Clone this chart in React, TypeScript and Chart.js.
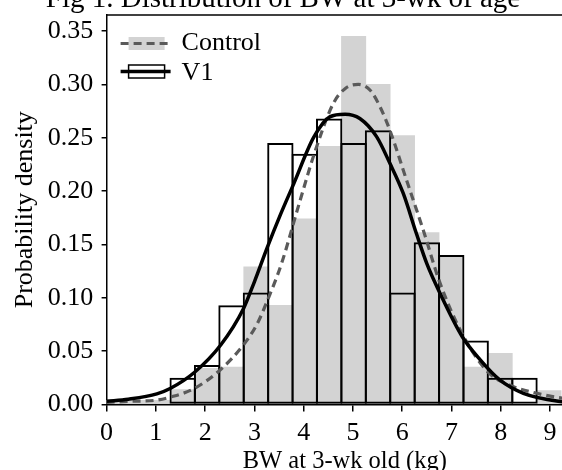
import React, { useEffect, useRef } from "react";
import { Chart, registerables } from "chart.js";

Chart.register(...registerables);

// Histogram bin centres (kg) and densities
const binCenters = [0.057, 0.552, 1.048, 1.544, 2.04, 2.535, 3.031, 3.527, 4.022, 4.518, 5.014, 5.509, 6.005, 6.501, 6.996, 7.492, 7.988, 8.483, 8.979];
const controlDensity: (number | null)[] = [0.004, 0.004, 0.004, 0.014, 0.034, 0.035, 0.129, 0.093, 0.174, 0.242, 0.345, 0.3, 0.252, 0.161, 0.138, 0.035, 0.048, null, 0.013];
const v1Density: (number | null)[] = [null, null, null, 0.025, 0.037, 0.093, 0.105, 0.245, 0.235, 0.268, 0.245, 0.257, 0.105, 0.152, 0.14, 0.06, 0.025, 0.025, null];

// Density curves
const controlCurveX = [0, 0.5, 1.0, 1.3, 1.78, 2.32, 2.78, 3.05, 3.26, 3.55, 3.92, 4.23, 4.6, 4.84, 5.11, 5.35, 5.55, 5.75, 6.09, 6.43, 6.77, 7.22, 7.75, 8.25, 8.73, 9.24, 9.7];
const controlCurveY = [0.002, 0.003, 0.004, 0.007, 0.015, 0.033, 0.056, 0.075, 0.097, 0.132, 0.19, 0.237, 0.282, 0.296, 0.3, 0.2945, 0.279, 0.257, 0.21, 0.163, 0.1135, 0.066, 0.03, 0.017, 0.0105, 0.006, 0.004];
const v1CurveX = [0, 0.44, 1.02, 1.29, 1.78, 2.32, 2.78, 3.0, 3.26, 3.52, 3.8, 4.2, 4.53, 4.84, 5.14, 5.48, 5.75, 6.02, 6.29, 6.5, 6.77, 7.22, 7.58, 7.98, 8.46, 9.24, 9.7];
const v1CurveY = [0.003, 0.005, 0.01, 0.015, 0.03, 0.056, 0.09, 0.115, 0.147, 0.177, 0.207, 0.25, 0.2695, 0.272, 0.268, 0.251, 0.226, 0.198, 0.16, 0.132, 0.104, 0.0635, 0.042, 0.023, 0.0105, 0.0026, 0.001];

const xTicks = [0, 1, 2, 3, 4, 5, 6, 7, 8, 9];
const yTicks = [0, 0.05, 0.1, 0.15, 0.2, 0.25, 0.3, 0.35];

const titleText = "Fig 1. Distribution of BW at 3-wk of age";
const xTitle = "BW at 3-wk old (kg)";
const yTitle = "Probability density";
const legendLabels = ["Control", "V1"];

const FAMILY = '"Liberation Serif", "Times New Roman", serif';
const W = 590;
const H = 480;

const toBars = (vals: (number | null)[]) =>
  binCenters
    .map((x, i) => ({ x, y: vals[i] }))
    .filter((p) => p.y !== null) as { x: number; y: number }[];

const framePlugin = {
  id: "frameAndLegend",
  afterDraw(chart: any) {
    const { ctx, chartArea } = chart;
    ctx.save();
    // top frame line
    ctx.strokeStyle = "#000";
    ctx.lineWidth = 1.5;
    ctx.beginPath();
    ctx.moveTo(chartArea.left, chartArea.top);
    ctx.lineTo(chartArea.right, chartArea.top);
    ctx.stroke();

    // title (partially cut off at top)
    ctx.fillStyle = "#000";
    ctx.font = `29px ${FAMILY}`;
    ctx.textAlign = "center";
    ctx.textBaseline = "alphabetic";
    ctx.fillText(titleText, 283, 7);

    // legend
    const lx0 = chartArea.left + 14;
    const lx1 = chartArea.left + 64;
    const bx = chartArea.left + 22;
    const bw = 36;
    const bh = 13;
    const r1 = 43.5;
    const r2 = 71.5;
    // Control patch
    ctx.fillStyle = "#d3d3d3";
    ctx.fillRect(bx, r1 - bh / 2, bw, bh);
    ctx.strokeStyle = "#5a5a5a";
    ctx.lineWidth = 3.2;
    ctx.setLineDash([8, 5]);
    ctx.beginPath();
    ctx.moveTo(lx0, r1);
    ctx.lineTo(lx1, r1);
    ctx.stroke();
    ctx.setLineDash([]);
    // V1 patch
    ctx.fillStyle = "#fff";
    ctx.fillRect(bx, r2 - bh / 2, bw, bh);
    ctx.strokeStyle = "#000";
    ctx.lineWidth = 1.5;
    ctx.strokeRect(bx, r2 - bh / 2, bw, bh);
    ctx.lineWidth = 3.5;
    ctx.beginPath();
    ctx.moveTo(lx0, r2);
    ctx.lineTo(lx1, r2);
    ctx.stroke();
    // labels
    ctx.fillStyle = "#000";
    ctx.font = `26px ${FAMILY}`;
    ctx.textAlign = "left";
    ctx.fillText(legendLabels[0], chartArea.left + 75, r1 + 6.5);
    ctx.fillText(legendLabels[1], chartArea.left + 75, r2 + 8.8);
    ctx.restore();
  },
};

export default function App() {
  const ref = useRef<HTMLCanvasElement>(null);
  useEffect(() => {
    document.body.style.margin = "0";
    document.body.style.overflow = "hidden";
    const canvas = ref.current;
    if (!canvas) return;
    const font = { family: FAMILY, size: 26 };
    const chart = new Chart(canvas, {
      type: "bar",
      data: {
        datasets: [
          {
            type: "line",
            label: "V1 density",
            data: v1CurveX.map((x, i) => ({ x, y: v1CurveY[i] })),
            borderColor: "#000",
            borderWidth: 3.5,
            pointRadius: 0,
            cubicInterpolationMode: "monotone",
            fill: false,
            order: 1,
          } as any,
          {
            type: "line",
            label: "Control density",
            data: controlCurveX.map((x, i) => ({ x, y: controlCurveY[i] })),
            borderColor: "#5a5a5a",
            borderWidth: 3.2,
            borderDash: [8, 5],
            pointRadius: 0,
            cubicInterpolationMode: "monotone",
            fill: false,
            order: 2,
          } as any,
          {
            type: "bar",
            label: "V1",
            data: toBars(v1Density),
            backgroundColor: "rgba(0,0,0,0)",
            borderColor: "#000",
            borderWidth: 2,
            borderSkipped: false,
            barPercentage: 1.08,
            categoryPercentage: 1,
            grouped: false,
            order: 3,
          } as any,
          {
            type: "bar",
            label: "Control",
            data: toBars(controlDensity),
            backgroundColor: "#d3d3d3",
            borderWidth: 0,
            barPercentage: 1,
            categoryPercentage: 1,
            grouped: false,
            order: 4,
          } as any,
        ],
      },
      options: {
        responsive: false,
        animation: false,
        devicePixelRatio: 1,
        layout: { padding: { top: 15, right: 7, left: 0, bottom: 0 } },
        plugins: {
          legend: { display: false },
          title: { display: false },
          tooltip: { enabled: false },
        },
        scales: {
          x: {
            type: "linear",
            min: 0,
            max: 9.67,
            offset: false,
            grid: {
              display: true,
              drawOnChartArea: false,
              drawTicks: true,
              tickLength: 7,
              color: "#000",
              lineWidth: 1.5,
              offset: false,
            },
            border: { display: true, color: "#000", width: 1.5 },
            ticks: {
              color: "#000",
              font,
              padding: 5.7,
              maxRotation: 0,
              autoSkip: false,
              callback: (v: any) => String(v),
            },
            title: {
              display: true,
              text: xTitle,
              color: "#000",
              font: { family: FAMILY, size: 24.5 },
              padding: { top: 0, bottom: 3.9 },
            },
            afterBuildTicks: (s: any) => {
              s.ticks = xTicks.map((v) => ({ value: v }));
            },
            afterFit: (s: any) => {
              s.height = 75.5;
              s.paddingLeft = 0;
              s.paddingRight = 0;
            },
          } as any,
          y: {
            type: "linear",
            min: 0,
            max: 0.365,
            grid: {
              display: true,
              drawOnChartArea: false,
              drawTicks: true,
              tickLength: 5,
              color: "#000",
              lineWidth: 1.5,
            },
            border: { display: true, color: "#000", width: 1.5 },
            ticks: {
              color: "#000",
              font,
              padding: 8.3,
              callback: (v: any) => Number(v).toFixed(2),
            },
            title: {
              display: true,
              text: yTitle,
              color: "#000",
              font,
              padding: { top: 9.9, bottom: 0 },
            },
            afterBuildTicks: (s: any) => {
              s.ticks = yTicks.map((v) => ({ value: v }));
            },
            afterFit: (s: any) => {
              s.width = 106.6;
              s.paddingTop = 0;
              s.paddingBottom = 0;
            },
          } as any,
        },
      },
      plugins: [framePlugin],
    } as any);
    return () => chart.destroy();
  }, []);
  return (
    <div style={{ width: W, height: H, overflow: "hidden" }}>
      <canvas ref={ref} width={W} height={H} style={{ display: "block", width: W, height: H }} />
    </div>
  );
}
